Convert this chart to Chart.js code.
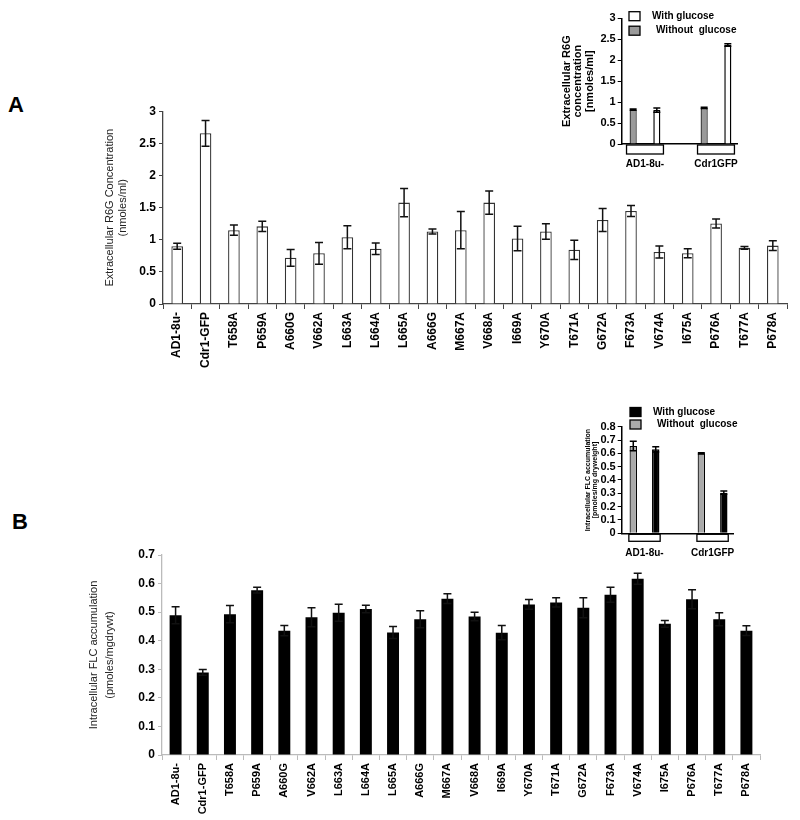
<!DOCTYPE html>
<html>
<head>
<meta charset="utf-8">
<script src="https://cdn.jsdelivr.net/npm/chart.js@4.4.0/dist/chart.umd.min.js"></script>
<style>
  body { margin: 0; background: #fff; width: 800px; height: 820px; position: relative; overflow: hidden; font-family: "Liberation Sans", Arial, sans-serif; }
  canvas { position: absolute; }
  .panel { position: absolute; font-weight: bold; font-size: 22px; }
</style>
</head>
<body>
<div class="panel" style="left:8px;top:92px">A</div>
<div class="panel" style="left:12px;top:509px">B</div>
<canvas id="mainA" width="800" height="280" style="left:0;top:100px"></canvas>
<canvas id="mainB" width="800" height="340" style="left:0;top:480px"></canvas>
<canvas id="insetA" width="320" height="175" style="left:480px;top:0"></canvas>
<canvas id="insetB" width="320" height="200" style="left:480px;top:400px"></canvas>
<script>
// strains on the x axis of both main panels
const mutants = [
  "AD1-8u-", "Cdr1-GFP", "T658A", "P659A", "A660G", "V662A", "L663A", "L664A",
  "L665A", "A666G", "M667A", "V668A", "I669A", "Y670A", "T671A", "G672A",
  "F673A", "V674A", "I675A", "P676A", "T677A", "P678A"
];

// panel A: extracellular R6G (nmoles/ml)
const r6gValues = [0.90, 2.66, 1.15, 1.21, 0.72, 0.79, 1.04, 0.86, 1.58, 1.13, 1.15,
  1.58, 1.02, 1.13, 0.845, 1.31, 1.45, 0.81, 0.79, 1.255, 0.875, 0.91];
const r6gErrors = [0.045, 0.20, 0.08, 0.08, 0.13, 0.17, 0.18, 0.09, 0.22, 0.04, 0.29,
  0.18, 0.19, 0.12, 0.15, 0.18, 0.085, 0.095, 0.07, 0.07, 0.02, 0.075];

// panel B: intracellular FLC (pmoles/mgdrywt)
const flcValues = [0.489, 0.289, 0.493, 0.577, 0.435, 0.482, 0.498, 0.511, 0.429, 0.475, 0.547,
  0.485, 0.428, 0.527, 0.534, 0.515, 0.561, 0.617, 0.459, 0.545, 0.475, 0.435];
const flcErrors = [0.03, 0.01, 0.03, 0.01, 0.018, 0.033, 0.03, 0.013, 0.021, 0.03, 0.017,
  0.015, 0.025, 0.017, 0.016, 0.035, 0.026, 0.019, 0.012, 0.033, 0.023, 0.017];

// insets
const insetStrains = ["AD1-8u-", "Cdr1GFP"];
const r6gWithGlucose = [0.81, 2.36];
const r6gWithGlucoseErr = [0.05, 0.03];
const r6gWithoutGlucose = [0.82, 0.86];
const r6gWithoutGlucoseErr = [0.015, 0.015];
const flcWithGlucose = [0.63, 0.305];
const flcWithGlucoseErr = [0.02, 0.012];
const flcWithoutGlucose = [0.655, 0.60];
const flcWithoutGlucoseErr = [0.035, 0.004];

Chart.defaults.font.family = '"Liberation Sans", Arial, sans-serif';
Chart.defaults.color = '#000';
Chart.defaults.animation = false;

const FONT_TICK = { size: 12, weight: 'bold' };
// plain number labels: 3 instead of 3.0
const plainTick = v => String(+v.toFixed(2));

/**
 * Draws symmetric error bars from dataset.errors on every bar.
 */
const errorBars = {
  id: 'errorBars',
  afterDatasetsDraw(chart, args, opts) {
    const ctx = chart.ctx;
    const yScale = chart.scales.y;
    chart.data.datasets.forEach((ds, i) => {
      if (!ds.errors) return;
      const meta = chart.getDatasetMeta(i);
      meta.data.forEach((bar, j) => {
        const d = ds.data[j];
        const v = typeof d === 'object' ? d.y : d;
        const err = ds.errors[j];
        const top = yScale.getPixelForValue(v + err);
        const bottom = yScale.getPixelForValue(v - err);
        const cap = opts.cap || 4;
        ctx.save();
        ctx.strokeStyle = opts.color || '#000';
        ctx.lineWidth = opts.width || 1.5;
        ctx.beginPath();
        ctx.moveTo(bar.x, top); ctx.lineTo(bar.x, bottom);
        ctx.moveTo(bar.x - cap, top); ctx.lineTo(bar.x + cap, top);
        ctx.moveTo(bar.x - cap, bottom); ctx.lineTo(bar.x + cap, bottom);
        ctx.stroke();
        ctx.restore();
      });
    });
  }
};

/**
 * Excel style category boxes under the inset x axis, plus a small legend.
 */
const insetDecor = {
  id: 'insetDecor',
  afterDraw(chart, args, opts) {
    const ctx = chart.ctx;
    const xs = chart.scales.x;
    const area = chart.chartArea;
    ctx.save();
    ctx.lineWidth = 1.3;
    ctx.strokeStyle = '#000';
    insetStrains.forEach((s, i) => {
      const l = xs.getPixelForValue(i - opts.boxHalf);
      const r = xs.getPixelForValue(i + opts.boxHalf);
      ctx.fillStyle = '#fff';
      ctx.fillRect(l, area.bottom + 1, r - l, opts.boxHeight);
      ctx.strokeRect(l, area.bottom + 1, r - l, opts.boxHeight);
    });
    // legend: reversed dataset order, boxes then labels
    const items = chart.data.datasets.slice().reverse();
    items.forEach((ds, k) => {
      const y = opts.legendY + k * opts.legendStep;
      ctx.fillStyle = ds.backgroundColor;
      ctx.fillRect(opts.legendX, y, 11, 9);
      ctx.strokeRect(opts.legendX, y, 11, 9);
      ctx.fillStyle = '#000';
      ctx.font = 'bold 10px "Liberation Sans", Arial, sans-serif';
      ctx.textBaseline = 'middle';
      ctx.fillText(ds.label, opts.legendX + 23 + k * 4, y + 4.5);
    });
    ctx.restore();
  }
};

function mainChart(id, values, errors, opts) {
  return new Chart(document.getElementById(id), {
    type: 'bar',
    data: {
      labels: mutants,
      datasets: [{
        data: values,
        errors: errors,
        backgroundColor: opts.fill,
        borderColor: opts.border,
        borderWidth: opts.borderWidth,
        barPercentage: opts.barPct,
        categoryPercentage: 1
      }]
    },
    options: {
      responsive: false,
      layout: { padding: { top: opts.top, right: opts.right, left: 0, bottom: 0 } },
      plugins: {
        legend: { display: false },
        tooltip: { enabled: false },
        errorBars: { cap: 4, width: 1.5, color: '#111' }
      },
      scales: {
        x: {
          offset: true,
          grid: { offset: true, drawOnChartArea: false, tickLength: 5, color: opts.axisColor },
          border: { color: opts.axisColor, width: 1.3 },
          ticks: { autoSkip: false, minRotation: 90, maxRotation: 90, padding: 3, font: opts.xFont },
          afterFit: s => { s.height = opts.xHeight; }
        },
        y: {
          min: 0,
          max: opts.max,
          ticks: { stepSize: opts.step, autoSkip: false, padding: 3, font: FONT_TICK, callback: plainTick },
          grid: { drawOnChartArea: false, tickLength: 4, color: opts.axisColor },
          border: { color: opts.axisColor, width: 1.3 },
          title: {
            display: true,
            text: opts.title,
            color: '#222',
            font: { size: 11, lineHeight: opts.titleLH },
            padding: { top: opts.titlePad, bottom: 0 }
          },
          afterFit: s => { s.width = opts.yWidth; }
        }
      }
    },
    plugins: [errorBars]
  });
}

mainChart('mainA', r6gValues, r6gErrors, {
  fill: '#fff', border: '#333', borderWidth: 1.3, barPct: 0.41,
  top: 11.5, right: 13, xHeight: 76, yWidth: 163, max: 3, step: 0.5,
  axisColor: '#444', xFont: { size: 12, weight: 'bold' },
  title: ['Extracellular R6G Concentration', '(nmoles/ml)'], titleLH: 1.2, titlePad: 103
});

mainChart('mainB', flcValues, flcErrors, {
  fill: '#000', border: '#000', borderWidth: 0, barPct: 0.44,
  top: 75, right: 40, xHeight: 65, yWidth: 162, max: 0.7, step: 0.1,
  axisColor: '#bbb', xFont: { size: 11, weight: 'bold' },
  title: ['Intracellular FLC accumulation', '(pmoles/mgdrywt)'], titleLH: 1.45, titlePad: 86
});

function insetChart(id, without, withoutErr, withG, withErr, opts) {
  const toPoints = arr => arr.map((v, i) => ({ x: i, y: v }));
  return new Chart(document.getElementById(id), {
    type: 'bar',
    data: {
      datasets: [{
        label: 'Without  glucose',
        data: toPoints(without),
        errors: withoutErr,
        backgroundColor: opts.withoutColor,
        borderColor: '#000',
        borderWidth: 1.2
      }, {
        label: 'With glucose',
        data: toPoints(withG),
        errors: withErr,
        backgroundColor: opts.withColor,
        borderColor: '#000',
        borderWidth: 1.5
      }]
    },
    options: {
      responsive: false,
      categoryPercentage: opts.catPct,
      barPercentage: opts.barPct,
      layout: { padding: { top: opts.top, right: opts.right, left: 0, bottom: 0 } },
      plugins: {
        legend: { display: false },
        tooltip: { enabled: false },
        errorBars: { cap: 3.5, width: 1.5, color: '#000' },
        insetDecor: opts.decor
      },
      scales: {
        x: {
          type: 'linear',
          offset: false,
          min: opts.xMin,
          max: opts.xMax,
          grid: { display: false, drawTicks: false },
          border: { color: '#000', width: 1.5 },
          ticks: {
            stepSize: 1, includeBounds: false, padding: opts.labelPad, autoSkip: false,
            maxRotation: 0, font: { size: 10, weight: 'bold' },
            callback: v => insetStrains[v] ?? ''
          },
          afterFit: s => { s.height = opts.xHeight; }
        },
        y: {
          min: 0,
          max: opts.max,
          ticks: { stepSize: opts.step, autoSkip: false, padding: 2, font: { size: 11, weight: 'bold' }, callback: plainTick },
          grid: { drawOnChartArea: false, tickLength: 4, color: '#000' },
          border: { color: '#000', width: 1.5 },
          title: {
            display: true,
            text: opts.title,
            font: { size: opts.titleSize, weight: 'bold', lineHeight: opts.titleLH },
            padding: { top: opts.titlePad, bottom: 0 }
          },
          afterFit: s => { s.width = 141.7; }
        }
      }
    },
    plugins: [errorBars, insetDecor]
  });
}

insetChart('insetA', r6gWithoutGlucose, r6gWithoutGlucoseErr, r6gWithGlucose, r6gWithGlucoseErr, {
  withoutColor: '#9a9a9a', withColor: '#fff', catPct: 0.667, barPct: 0.3,
  top: 18.3, right: 63, xHeight: 31, xMin: -0.328, xMax: 1.296, labelPad: 14,
  max: 3, step: 0.5, title: ['Extracellular R6G', 'concentration', '[nmoles/ml]'],
  titleSize: 11, titleLH: 1.05, titlePad: 81,
  decor: { boxHalf: 0.26, boxHeight: 9, legendX: 149, legendY: 11.7, legendStep: 14.5 }
});

insetChart('insetB', flcWithoutGlucose, flcWithoutGlucoseErr, flcWithGlucose, flcWithGlucoseErr, {
  withoutColor: '#aaa', withColor: '#000', catPct: 0.66, barPct: 0.33,
  top: 26.7, right: 67, xHeight: 66.7, xMin: -0.335, xMax: 1.30, labelPad: 14,
  max: 0.8, step: 0.1, title: ['Intracellular FLC accumulation', '[pmoles/mg dryweight]'],
  titleSize: 7, titleLH: 1.0, titlePad: 104.5,
  decor: { boxHalf: 0.23, boxHeight: 7, legendX: 150, legendY: 7.5, legendStep: 12.5 }
});
</script>
</body>
</html>
